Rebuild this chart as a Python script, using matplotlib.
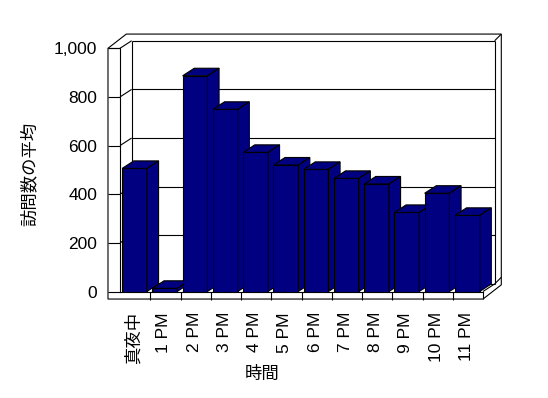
import matplotlib

matplotlib.use("Agg")
import matplotlib.pyplot as plt  # noqa: E402
from matplotlib.patches import Polygon  # noqa: E402
from matplotlib.ticker import FuncFormatter  # noqa: E402

plt.rcParams["font.family"] = ["Liberation Sans", "Noto Sans CJK JP", "DejaVu Sans"]

# data
categories = ["真夜中", "1 PM", "2 PM", "3 PM", "4 PM", "5 PM",
              "6 PM", "7 PM", "8 PM", "9 PM", "10 PM", "11 PM"]
visits = [506, 13, 887, 749, 572, 520, 502, 465, 442, 325, 404, 313]
y_ticks = [0, 200, 400, 600, 800, 1000]
y_title = "訪問数の平均"
x_title = "時間"

NAVY = "#000080"
DX, DY = 0.385, 31      # depth of the plot box (category units, value units)
TX, TY = 0.22, 27.5     # back wall thickness
WALL = 0.397            # left wall thickness (category units)
FLOOR = -31             # floor thickness (value units)
BAR_X0, BAR_W = 0.07, 0.82
FS = 12.5
LW = 0.8

n = len(categories)
top = y_ticks[-1]

fig = plt.figure(figsize=(5.48, 3.98), dpi=100)
ax = fig.add_axes([120 / 548, 1 - 291.5 / 398, 363 / 548, 243.2 / 398])
ax.set_xlim(0, n)
ax.set_ylim(0, top)
ax.patch.set_visible(False)
for s in ("top", "right"):
    ax.spines[s].set_visible(False)
for s in ("left", "bottom"):
    ax.spines[s].set_linewidth(LW)
    ax.spines[s].set_zorder(2)


def seg(xs, ys, z=1):
    ax.plot(xs, ys, color="black", lw=LW, clip_on=False, zorder=z,
            solid_capstyle="butt")


# outer outline of walls + floor
L = -WALL
outline = [
    (L, top),
    (L + DX + TX, top + DY + TY),
    (n + DX + TX, top + DY + TY),
    (n + DX + TX, FLOOR + DY + TY),
    (n, FLOOR),
    (L, FLOOR),
]
ax.add_patch(Polygon(outline, closed=True, facecolor="white",
                     edgecolor="black", lw=LW, clip_on=False, zorder=0.5))

# left wall / back wall edges
seg([L, 0], [top, top])
seg([0, DX], [top, top + DY])
seg([DX, n + DX], [top + DY, top + DY])
seg([n + DX, n + DX + TX], [top + DY, top + DY + TY])
seg([DX, DX], [DY, top + DY])
seg([n + DX, n + DX], [DY, top + DY])
seg([n + DX, n + DX + TX], [DY, DY + TY])

# floor
seg([DX, n + DX], [DY, DY])
seg([n, n + DX], [0, DY])
seg([n, n], [0, FLOOR])

# gridlines along left and back walls
for v in y_ticks[1:-1]:
    seg([0, DX], [v, v + DY])
    seg([DX, n + DX], [v + DY, v + DY])

# 3D columns, left to right so each front face covers the previous side
for i, v in enumerate(visits):
    z = 3 + i
    x0 = i + BAR_X0
    x1 = x0 + BAR_W
    ax.bar(x0, v, width=BAR_W, align="edge", color=NAVY, edgecolor="black",
           lw=LW, zorder=z)
    ax.add_patch(Polygon([(x0, v), (x1, v), (x1 + DX, v + DY), (x0 + DX, v + DY)],
                         closed=True, facecolor=NAVY, edgecolor="black", lw=LW,
                         clip_on=False, zorder=z))
    ax.add_patch(Polygon([(x1, 0), (x1, v), (x1 + DX, v + DY), (x1 + DX, DY)],
                         closed=True, facecolor=NAVY, edgecolor="black", lw=LW,
                         clip_on=False, zorder=z))

# y axis: ticks run across the front of the left wall
ax.set_yticks(y_ticks)
ax.yaxis.set_major_formatter(FuncFormatter(lambda v, p: f"{int(v):,}"))
ax.tick_params(axis="y", length=12 * 0.72, width=LW, direction="out",
               pad=7.9, labelsize=FS)

# x axis: category separators on the floor front, labels at minor ticks
ax.set_xticks(range(1, n))
ax.set_xticklabels([])
ax.tick_params(axis="x", which="major", length=7.6 * 0.72, width=LW,
               direction="out")
ax.set_xticks([i + 0.45 for i in range(n)], minor=True)
ax.set_xticklabels(categories, minor=True, rotation=90)
ax.tick_params(axis="x", which="minor", length=0, pad=14.8, labelsize=FS)

ax.set_ylabel(y_title, fontsize=FS)
ax.yaxis.set_label_coords(-0.226, 0.483)
ax.set_xlabel(x_title, fontsize=FS)
ax.xaxis.set_label_coords(0.392, -0.306)

fig.savefig("out.png", dpi=100)
